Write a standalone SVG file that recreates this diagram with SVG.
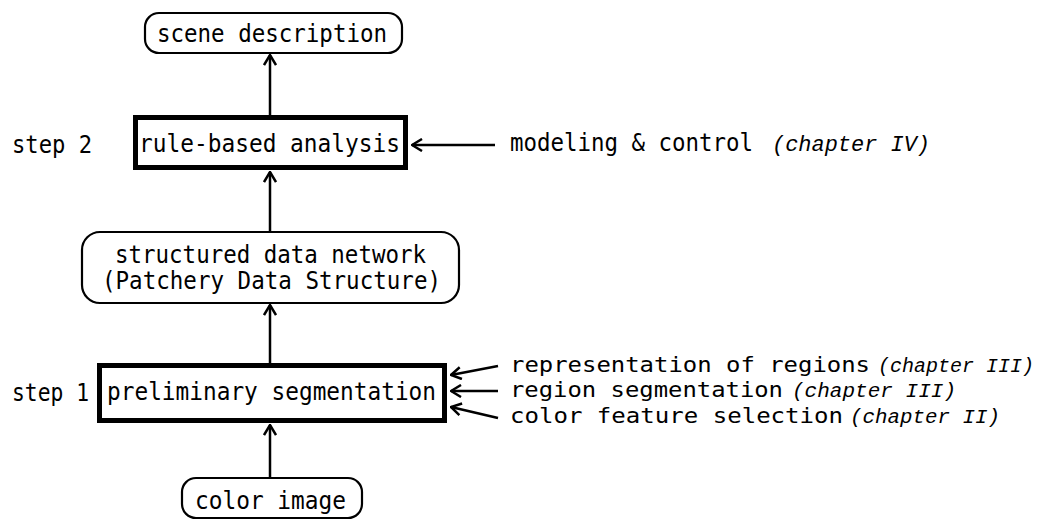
<svg xmlns="http://www.w3.org/2000/svg" width="1046" height="520" viewBox="0 0 1046 520">
<style>
.t{font-family:"DejaVu Sans Mono","Liberation Mono",monospace;font-size:24px;fill:#000}
.s{font-family:"DejaVu Sans Mono","Liberation Mono",monospace;font-size:22px;fill:#000}
.i{font-family:"Liberation Mono","DejaVu Sans Mono",monospace;font-style:italic;font-size:22px;fill:#000}
.j{font-family:"Liberation Mono","DejaVu Sans Mono",monospace;font-style:italic;font-size:20px;fill:#000}
.rb{fill:#fff;stroke:#000;stroke-width:2.2}
.tb{fill:#fff;stroke:#000;stroke-width:5}
.c{fill:none;stroke:#000;stroke-width:2.5}
</style>
<defs>
<marker id="ah" viewBox="0 0 12 14" refX="11" refY="7" markerWidth="12" markerHeight="14" markerUnits="userSpaceOnUse" orient="auto">
<path d="M1,1 L11,7 L1,13" fill="none" stroke="#000" stroke-width="2.5"/>
</marker>
</defs>
<g id="connectors">
<line class="c" x1="270" y1="115" x2="270" y2="55" marker-end="url(#ah)"/>
<line class="c" x1="270" y1="232" x2="270" y2="172" marker-end="url(#ah)"/>
<line class="c" x1="270" y1="363" x2="270" y2="305" marker-end="url(#ah)"/>
<line class="c" x1="270" y1="478" x2="270" y2="425" marker-end="url(#ah)"/>
<line class="c" x1="495" y1="145" x2="412" y2="145" marker-end="url(#ah)"/>
<line class="c" x1="498" y1="366" x2="451" y2="375" marker-end="url(#ah)"/>
<line class="c" x1="498" y1="391" x2="451" y2="391" marker-end="url(#ah)"/>
<line class="c" x1="498" y1="418" x2="451" y2="407" marker-end="url(#ah)"/>
</g>
<g id="scene">
<rect class="rb" x="145" y="13" width="257" height="40" rx="14"/>
<text class="t" x="157" y="42" textLength="230" lengthAdjust="spacingAndGlyphs">scene description</text>
</g>
<g id="rule">
<rect class="tb" x="135.5" y="117.5" width="270" height="50"/>
<text class="t" x="139" y="152" textLength="261" lengthAdjust="spacingAndGlyphs">rule-based analysis</text>
</g>
<g id="step2"><text class="t" x="12" y="153" textLength="80" lengthAdjust="spacingAndGlyphs">step 2</text></g>
<g id="modeling">
<text class="t" x="510" y="151" textLength="243" lengthAdjust="spacingAndGlyphs">modeling &amp; control</text>
<text class="i" x="772" y="151" textLength="158" lengthAdjust="spacingAndGlyphs">(chapter IV)</text>
</g>
<g id="network">
<rect class="rb" x="82" y="232" width="377" height="71" rx="18"/>
<text class="t" x="115" y="263" textLength="311" lengthAdjust="spacingAndGlyphs">structured data network</text>
<text class="t" x="102" y="289" textLength="339" lengthAdjust="spacingAndGlyphs">(Patchery Data Structure)</text>
</g>
<g id="prelim">
<rect class="tb" x="99.5" y="365.5" width="345" height="55"/>
<text class="t" x="107" y="400" textLength="329" lengthAdjust="spacingAndGlyphs">preliminary segmentation</text>
</g>
<g id="step1"><text class="t" x="12" y="401" textLength="77" lengthAdjust="spacingAndGlyphs">step 1</text></g>
<g id="inputs">
<text class="s" x="510" y="372" textLength="360" lengthAdjust="spacingAndGlyphs">representation of regions</text>
<text class="j" x="878" y="372" textLength="156" lengthAdjust="spacingAndGlyphs">(chapter III)</text>
<text class="s" x="510" y="397" textLength="273" lengthAdjust="spacingAndGlyphs">region segmentation</text>
<text class="j" x="792" y="397" textLength="164" lengthAdjust="spacingAndGlyphs">(chapter III)</text>
<text class="s" x="510" y="423" textLength="333" lengthAdjust="spacingAndGlyphs">color feature selection</text>
<text class="j" x="850" y="423" textLength="150" lengthAdjust="spacingAndGlyphs">(chapter II)</text>
</g>
<g id="colorimage">
<rect class="rb" x="182" y="478" width="180" height="40" rx="14"/>
<text class="t" x="195" y="509" textLength="151" lengthAdjust="spacingAndGlyphs">color image</text>
</g>
</svg>
